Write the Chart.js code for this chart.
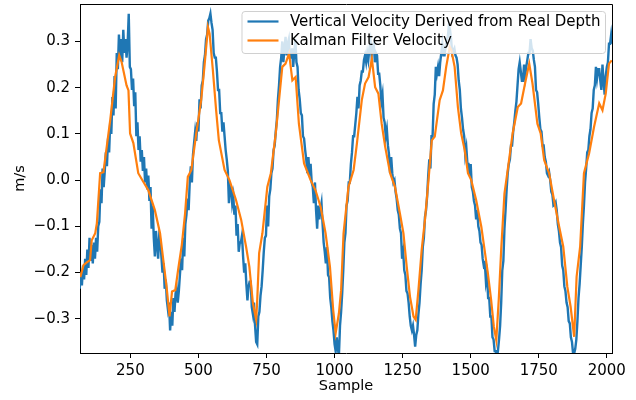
<!DOCTYPE html>
<html lang="en">
<head>
<meta charset="UTF-8">
<title>Vertical Velocity vs Kalman Filter</title>
<script src="https://cdn.jsdelivr.net/npm/chart.js"></script>
<style>
  html, body { margin: 0; padding: 0; background: #fff; }
  #wrap { width: 636px; height: 400px; }
</style>
</head>
<body>
<div id="wrap"><canvas id="velChart" width="636" height="400"></canvas></div>
<script>
// axis ticks
const xTicks = [250, 500, 750, 1000, 1250, 1500, 1750, 2000];
const yTicks = [-0.3, -0.2, -0.1, 0.0, 0.1, 0.2, 0.3];

// velocity from depth, one value every 4 samples starting at sample 64
const depthStart = 64, depthStep = 4;
const depthVelocity = [
  -0.235,-0.2,-0.228,-0.185,-0.215,-0.17,-0.205,-0.15,-0.19,-0.125,
  -0.175,-0.14,-0.18,-0.135,-0.17,-0.125,-0.155,-0.1,-0.09,-0.02,
  -0.05,0.025,-0.015,0.02,0.06,0.03,0.09,0.06,0.125,0.1,
  0.18,0.14,0.225,0.155,0.275,0.24,0.315,0.265,0.305,0.255,
  0.325,0.275,0.305,0.265,0.295,0.36,0.245,0.24,0.195,0.22,
  0.16,0.19,0.095,0.125,0.065,0.095,0.04,0.065,0.02,0.05,
  -0.005,0.025,-0.02,0.01,-0.045,-0.015,-0.105,-0.055,-0.125,-0.165,
  -0.11,-0.14,-0.17,-0.12,-0.13,-0.165,-0.2,-0.18,-0.235,-0.215,
  -0.26,-0.28,-0.265,-0.325,-0.285,-0.315,-0.255,-0.285,-0.245,-0.235,
  -0.265,-0.24,-0.205,-0.17,-0.195,-0.125,-0.165,-0.095,-0.075,-0.04,
  -0.065,-0.005,0.03,-0.005,0.055,0.08,0.105,0.085,0.125,0.105,
  0.175,0.155,0.205,0.215,0.255,0.27,0.305,0.315,0.345,0.35,
  0.36,0.34,0.325,0.275,0.265,0.265,0.235,0.195,0.195,0.145,
  0.145,0.105,0.125,0.095,0.065,0.045,0.02,-0.05,-0.01,-0.015,
  -0.05,-0.035,-0.075,-0.055,-0.12,-0.095,-0.155,-0.135,-0.135,-0.12,
  -0.165,-0.2,-0.18,-0.225,-0.26,-0.23,-0.22,-0.22,-0.275,-0.29,
  -0.265,-0.315,-0.35,-0.355,-0.295,-0.285,-0.25,-0.23,-0.195,-0.155,
  -0.125,-0.12,-0.055,-0.1,-0.035,-0.02,0.015,0.025,0.065,0.075,
  0.105,0.13,0.175,0.205,0.245,0.265,0.3,0.255,0.285,0.31,
  0.27,0.295,0.305,0.265,0.265,0.285,0.245,0.275,0.305,0.255,
  0.245,0.195,0.175,0.145,0.14,0.095,0.09,0.065,0.045,0.015,
  0.05,0.01,0.035,-0.005,-0.015,-0.05,-0.005,-0.065,-0.105,-0.055,
  -0.085,-0.065,-0.05,-0.095,-0.135,-0.155,-0.18,-0.145,-0.205,-0.21,
  -0.255,-0.275,-0.305,-0.325,-0.355,-0.37,-0.34,-0.365,-0.38,-0.315,
  -0.285,-0.245,-0.195,-0.135,-0.115,-0.055,-0.045,-0.005,-0.005,0.035,
  0.06,0.095,0.095,0.12,0.145,0.18,0.155,0.205,0.215,0.235,
  0.235,0.26,0.27,0.255,0.275,0.26,0.285,0.3,0.27,0.285,
  0.295,0.255,0.275,0.27,0.23,0.23,0.205,0.17,0.185,0.135,
  0.125,0.095,0.11,0.075,0.055,0.015,0.05,0.015,-0.005,0.0,
  -0.025,-0.04,-0.065,-0.075,-0.105,-0.115,-0.17,-0.155,-0.195,-0.205,
  -0.24,-0.245,-0.265,-0.295,-0.315,-0.325,-0.315,-0.335,-0.36,-0.335,
  -0.325,-0.29,-0.265,-0.225,-0.195,-0.145,-0.125,-0.08,-0.065,-0.035,
  0.01,0.045,0.025,0.095,0.095,0.165,0.185,0.245,0.23,0.245,
  0.225,0.255,0.275,0.295,0.27,0.27,0.29,0.305,0.31,0.335,
  0.325,0.305,0.275,0.28,0.285,0.27,0.265,0.25,0.215,0.195,
  0.155,0.135,0.11,0.095,0.055,0.07,0.035,0.035,0.01,0.035,
  -0.015,-0.025,-0.045,-0.055,-0.085,-0.065,-0.1,-0.11,-0.135,-0.14,
  -0.17,-0.185,-0.18,-0.22,-0.205,-0.255,-0.255,-0.295,-0.295,-0.34,
  -0.345,-0.37,-0.37,-0.385,-0.37,-0.345,-0.315,-0.265,-0.195,-0.175,
  -0.105,-0.065,-0.02,0.015,0.035,0.045,0.075,0.075,0.105,0.125,
  0.15,0.17,0.205,0.24,0.255,0.235,0.215,0.215,0.25,0.225,
  0.245,0.26,0.275,0.275,0.305,0.285,0.28,0.26,0.245,0.195,
  0.19,0.165,0.135,0.11,0.105,0.075,0.075,0.05,0.04,0.015,
  0.01,0.017,0.0,-0.025,-0.031,-0.055,-0.053,-0.048,-0.065,-0.095,
  -0.11,-0.135,-0.145,-0.185,-0.195,-0.23,-0.24,-0.265,-0.275,-0.305,
  -0.31,-0.34,-0.35,-0.375,-0.375,-0.365,-0.345,-0.305,-0.255,-0.225,
  -0.185,-0.145,-0.095,-0.055,-0.005,0.025,0.06,0.065,0.095,0.11,
  0.145,0.155,0.195,0.205,0.245,0.22,0.24,0.24,0.215,0.195,
  0.25,0.215,0.185,0.225,0.245,0.255,0.295,0.295,0.315,0.295
];

// kalman filter output
const kalmanSamples = [
  66,78,90,102,108,121,127,139,151,176,
  194,209,218,236,243,249,261,279,298,316,
  340,359,371,383,394,403,415,427,439,451,
  461,474,492,510,522,535,541,553,565,575,
  596,614,638,657,675,687,700,712,716,723,
  735,753,766,784,796,808,820,833,845,857,
  869,888,912,930,949,967,983,995,1004,1016,
  1024,1033,1051,1070,1082,1100,1112,1125,1137,1149,
  1161,1173,1186,1204,1222,1240,1253,1265,1277,1290,
  1298,1308,1320,1332,1345,1357,1368,1386,1398,1410,
  1423,1429,1441,1453,1465,1478,1490,1502,1520,1539,
  1551,1563,1575,1585,1594,1603,1612,1624,1636,1654,
  1673,1685,1702,1715,1727,1745,1757,1770,1788,1806,
  1825,1840,1855,1867,1880,1889,1902,1916,1935,1953,
  1972,1984,1996,2008,2018
];
const kalmanVelocity = [
  -0.21,-0.184,-0.178,-0.173,-0.13,-0.115,-0.093,0.015,0.017,0.13,
  0.223,0.27,0.255,0.205,0.194,0.101,0.08,0.015,-0.004,-0.022,
  -0.065,-0.115,-0.173,-0.231,-0.295,-0.241,-0.238,-0.187,-0.14,-0.072,
  0.007,0.022,0.101,0.173,0.245,0.331,0.317,0.238,0.151,0.086,
  0.022,0.0,-0.043,-0.086,-0.144,-0.187,-0.266,-0.302,-0.259,-0.158,
  -0.115,-0.015,0.015,0.101,0.173,0.245,0.252,0.274,0.216,0.223,
  0.122,0.036,0.0,-0.022,-0.058,-0.115,-0.187,-0.281,-0.331,-0.288,
  -0.238,-0.115,-0.015,0.022,0.079,0.173,0.209,0.223,0.263,0.201,
  0.187,0.122,0.072,0.015,-0.015,-0.072,-0.115,-0.187,-0.252,-0.295,
  -0.302,-0.238,-0.151,-0.086,0.0,0.086,0.094,0.173,0.194,0.245,
  0.288,0.281,0.245,0.158,0.101,0.065,0.015,0.0,-0.043,-0.101,
  -0.151,-0.201,-0.259,-0.317,-0.346,-0.259,-0.151,-0.029,0.022,0.101,
  0.158,0.166,0.216,0.252,0.209,0.122,0.101,0.043,0.015,-0.043,
  -0.101,-0.144,-0.231,-0.274,-0.339,-0.209,-0.144,0.015,0.058,0.115,
  0.166,0.151,0.187,0.252,0.259
];

const FONT = "'DejaVu Sans', sans-serif";
const tickFont = { family: FONT, size: 15 };
const titleFont = { family: FONT, size: 14.5 };

// top and right spines, like the matplotlib frame
const framePlugin = {
  id: 'frame',
  afterDraw(chart) {
    const { ctx, chartArea: a } = chart;
    ctx.save();
    ctx.strokeStyle = '#000';
    ctx.lineWidth = 1;
    ctx.beginPath();
    ctx.moveTo(Math.floor(a.left) + 0.5, Math.floor(a.top) + 0.5);
    ctx.lineTo(Math.floor(a.right) + 0.5, Math.floor(a.top) + 0.5);
    ctx.lineTo(Math.floor(a.right) + 0.5, Math.floor(a.bottom) + 0.5);
    ctx.stroke();
    ctx.restore();
  }
};

// legend box inside the plot, upper right
const legendPlugin = {
  id: 'innerLegend',
  afterDraw(chart) {
    const { ctx, chartArea: a } = chart;
    const sets = chart.data.datasets;
    ctx.save();
    ctx.font = '15px ' + FONT;
    let textW = 0;
    sets.forEach(d => { textW = Math.max(textW, ctx.measureText(d.label).width); });
    const right = a.right - 7, top = a.top + 7;
    const left = right - (textW + 53);
    const h = 42;
    ctx.beginPath();
    ctx.roundRect(left + 0.5, top + 0.5, right - left, h, 3);
    ctx.fillStyle = 'rgba(255,255,255,0.8)';
    ctx.fill();
    ctx.strokeStyle = '#d0d0d0';
    ctx.lineWidth = 1;
    ctx.stroke();
    const rows = [top + 10.5, top + 29.5];
    // blue first in the legend, like the original
    [sets[1], sets[0]].forEach((d, i) => {
      ctx.strokeStyle = d.borderColor;
      ctx.lineWidth = 2.2;
      ctx.beginPath();
      ctx.moveTo(left + 6, rows[i]);
      ctx.lineTo(left + 37, rows[i]);
      ctx.stroke();
      ctx.fillStyle = '#000';
      ctx.textBaseline = 'middle';
      ctx.fillText(d.label, left + 48.5, rows[i] + 1);
    });
    ctx.restore();
  }
};

const ctx = document.getElementById('velChart').getContext('2d');
new Chart(ctx, {
  type: 'line',
  data: {
    datasets: [
      {
        label: 'Kalman Filter Velocity',
        data: kalmanSamples.map((s, i) => ({ x: s, y: kalmanVelocity[i] })),
        borderColor: '#ff7f0e',
        borderWidth: 2.2,
        pointRadius: 0,
        tension: 0,
        fill: false,
        clip: 0,
        order: 0
      },
      {
        label: 'Vertical Velocity Derived from Real Depth',
        data: depthVelocity.map((v, i) => ({ x: depthStart + i * depthStep, y: v })),
        borderColor: '#1f77b4',
        borderWidth: 2.4,
        pointRadius: 0,
        tension: 0,
        fill: false,
        clip: 0,
        order: 1
      }
    ]
  },
  options: {
    responsive: false,
    animation: false,
    events: [],
    layout: { padding: { left: 0, top: 4, right: 24, bottom: 0 } },
    plugins: { legend: { display: false }, tooltip: { enabled: false } },
    scales: {
      x: {
        type: 'linear',
        min: 65,
        max: 2019,
        afterBuildTicks: s => { s.ticks = xTicks.map(v => ({ value: v })); },
        afterFit: s => { s.height = 47; s.paddingLeft = 0; s.paddingRight = 0; },
        ticks: {
          font: tickFont, color: '#000', padding: 4, maxRotation: 0, autoSkip: false,
          callback: v => String(v)
        },
        grid: { drawOnChartArea: false, tickLength: 5, color: '#000' },
        border: { color: '#000', width: 1 },
        title: { display: true, text: 'Sample', font: titleFont, color: '#000', padding: { top: 0, bottom: 5 } }
      },
      y: {
        min: -0.374,
        max: 0.381,
        afterBuildTicks: s => { s.ticks = yTicks.map(v => ({ value: v })); },
        afterFit: s => { s.width = 80; s.paddingTop = 0; s.paddingBottom = 0; },
        ticks: {
          font: tickFont, color: '#000', padding: 5, autoSkip: false,
          callback: v => v.toFixed(1).replace('-', '\u2212')
        },
        grid: { drawOnChartArea: false, tickLength: 5, color: '#000' },
        border: { color: '#000', width: 1 },
        title: { display: true, text: 'm/s', font: titleFont, color: '#000', padding: { top: 12, bottom: 0 } }
      }
    }
  },
  plugins: [framePlugin, legendPlugin]
});
</script>
</body>
</html>
